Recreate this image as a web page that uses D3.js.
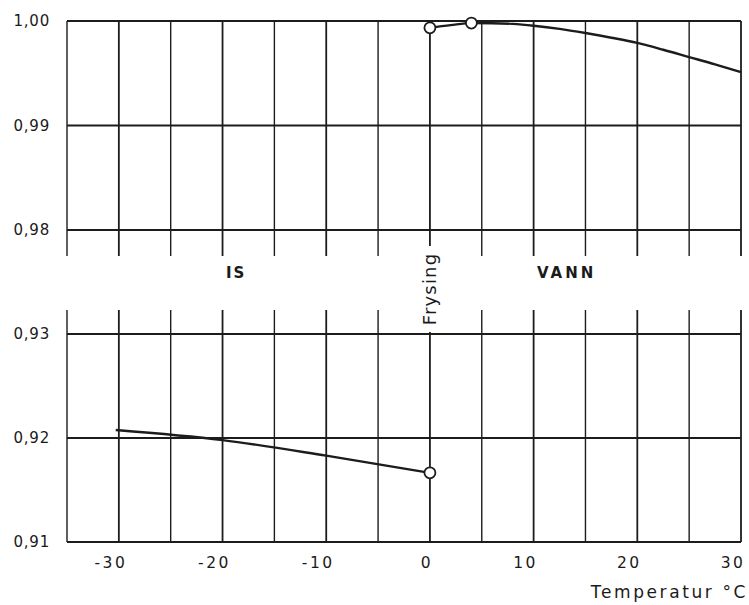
<!DOCTYPE html>
<html>
<head>
<meta charset="utf-8">
<script src="https://cdn.jsdelivr.net/npm/d3@7"></script>
<style>
  html, body { margin: 0; padding: 0; background: #fff; }
  svg { display: block; }
  text { font-family: "DejaVu Sans", sans-serif; fill: #1a1a1a; }
</style>
</head>
<body>
<svg id="chart" width="749" height="605"></svg>
<script>
// ---- data ----
const xTicks = [-35, -30, -25, -20, -15, -10, -5, 0, 5, 10, 15, 20, 25, 30];
const xTickLabels = [-30, -20, -10, 0, 10, 20, 30];
const upperTicks = [1.00, 0.99, 0.98];
const upperTickLabels = ["1,00", "0,99", "0,98"];
const lowerTicks = [0.93, 0.92, 0.91];
const lowerTickLabels = ["0,93", "0,92", "0,91"];

const waterTemp = [0, 2, 4, 6, 8, 10, 12.5, 15, 17.5, 20, 22.5, 25, 27.5, 30];
const waterDensity = [0.99935, 0.9996, 0.9998, 0.99979, 0.99972, 0.99955, 0.99925, 0.99885, 0.9984, 0.9979, 0.99725, 0.99655, 0.99585, 0.9951];
const waterMarkTemp = [0, 4];
const waterMarkDensity = [0.99935, 0.9998];

const iceTemp = [-30.3, -20, -10, 0];
const iceDensity = [0.92077, 0.9198, 0.9183, 0.91665];
const iceMarkTemp = [0];
const iceMarkDensity = [0.91665];

// ---- scales ----
const svg = d3.select("#chart");
const x = d3.scaleLinear().domain([-35, 30]).range([67, 741]);
const yU = d3.scaleLinear().domain([0.98, 1.00]).range([230, 21]);
const yL = d3.scaleLinear().domain([0.91, 0.93]).range([542, 334]);

const ink = "#1c1c1c";
const g = svg.append("g");

// vertical grid, upper panel
g.selectAll(".vu").data(xTicks).join("line")
  .attr("x1", d => x(d)).attr("x2", d => x(d))
  .attr("y1", yU(1.00)).attr("y2", d => d === 0 ? 246 : 256)
  .attr("stroke", ink).attr("stroke-width", d => (d % 10 === 0 ? 1.8 : 1.4));

// vertical grid, lower panel
g.selectAll(".vl").data(xTicks).join("line")
  .attr("x1", d => x(d)).attr("x2", d => x(d))
  .attr("y1", d => d === 0 ? 332 : 310).attr("y2", yL(0.91))
  .attr("stroke", ink).attr("stroke-width", d => (d % 10 === 0 ? 1.8 : 1.4));

// horizontal grid
g.selectAll(".hu").data(upperTicks).join("line")
  .attr("x1", x(-35)).attr("x2", x(30))
  .attr("y1", d => yU(d)).attr("y2", d => yU(d))
  .attr("stroke", ink).attr("stroke-width", 1.8);
g.selectAll(".hl").data(lowerTicks).join("line")
  .attr("x1", x(-35)).attr("x2", x(30))
  .attr("y1", d => yL(d)).attr("y2", d => yL(d))
  .attr("stroke", ink).attr("stroke-width", 1.8);

// y tick labels
g.selectAll(".lu").data(upperTicks).join("text")
  .attr("x", 50).attr("y", d => yU(d)).attr("dy", "0.35em")
  .attr("text-anchor", "end").attr("font-size", 15).attr("letter-spacing", 0.8)
  .text((d, i) => upperTickLabels[i]);
g.selectAll(".ll").data(lowerTicks).join("text")
  .attr("x", 50).attr("y", d => yL(d)).attr("dy", "0.35em")
  .attr("text-anchor", "end").attr("font-size", 15).attr("letter-spacing", 0.8)
  .text((d, i) => lowerTickLabels[i]);

// x tick labels
g.selectAll(".xl").data(xTickLabels).join("text")
  .attr("x", d => x(d) - (d === 0 ? 3 : 8)).attr("y", 563).attr("dy", "0.35em")
  .attr("text-anchor", "middle").attr("font-size", 15.5).attr("letter-spacing", 2.5)
  .text(d => d < 0 ? "-" + Math.abs(d) : String(d));

// axis title
g.append("text").attr("x", 748).attr("y", 598)
  .attr("text-anchor", "end").attr("font-size", 17).attr("letter-spacing", 2.6)
  .text("Temperatur °C");

// region labels
g.append("text").attr("x", 226).attr("y", 273).attr("dy", "0.35em")
  .attr("font-size", 15).attr("font-weight", "bold").attr("letter-spacing", 2)
  .text("IS");
g.append("text").attr("x", 537).attr("y", 273).attr("dy", "0.35em")
  .attr("font-size", 15).attr("font-weight", "bold").attr("letter-spacing", 3)
  .text("VANN");
g.append("text")
  .attr("transform", `translate(${x(0)},289) rotate(-90)`)
  .attr("text-anchor", "middle").attr("dy", "0.35em")
  .attr("font-size", 18).attr("letter-spacing", 1.2)
  .text("Frysing");

// curves
const waterPts = waterTemp.map((t, i) => [t, waterDensity[i]]);
const icePts = iceTemp.map((t, i) => [t, iceDensity[i]]);
g.append("path").datum(waterPts)
  .attr("fill", "none").attr("stroke", ink).attr("stroke-width", 2.4)
  .attr("d", d3.line().x(d => x(d[0])).y(d => yU(d[1])).curve(d3.curveMonotoneX));
g.append("path").datum(icePts)
  .attr("fill", "none").attr("stroke", ink).attr("stroke-width", 2.4)
  .attr("d", d3.line().x(d => x(d[0])).y(d => yL(d[1])).curve(d3.curveMonotoneX));

// markers
g.selectAll(".mw").data(waterMarkTemp).join("circle")
  .attr("cx", d => x(d)).attr("cy", (d, i) => yU(waterMarkDensity[i])).attr("r", 5.5)
  .attr("fill", "#fff").attr("stroke", ink).attr("stroke-width", 1.8);
g.selectAll(".mi").data(iceMarkTemp).join("circle")
  .attr("cx", d => x(d)).attr("cy", (d, i) => yL(iceMarkDensity[i])).attr("r", 5.5)
  .attr("fill", "#fff").attr("stroke", ink).attr("stroke-width", 1.8);
</script>
</body>
</html>
